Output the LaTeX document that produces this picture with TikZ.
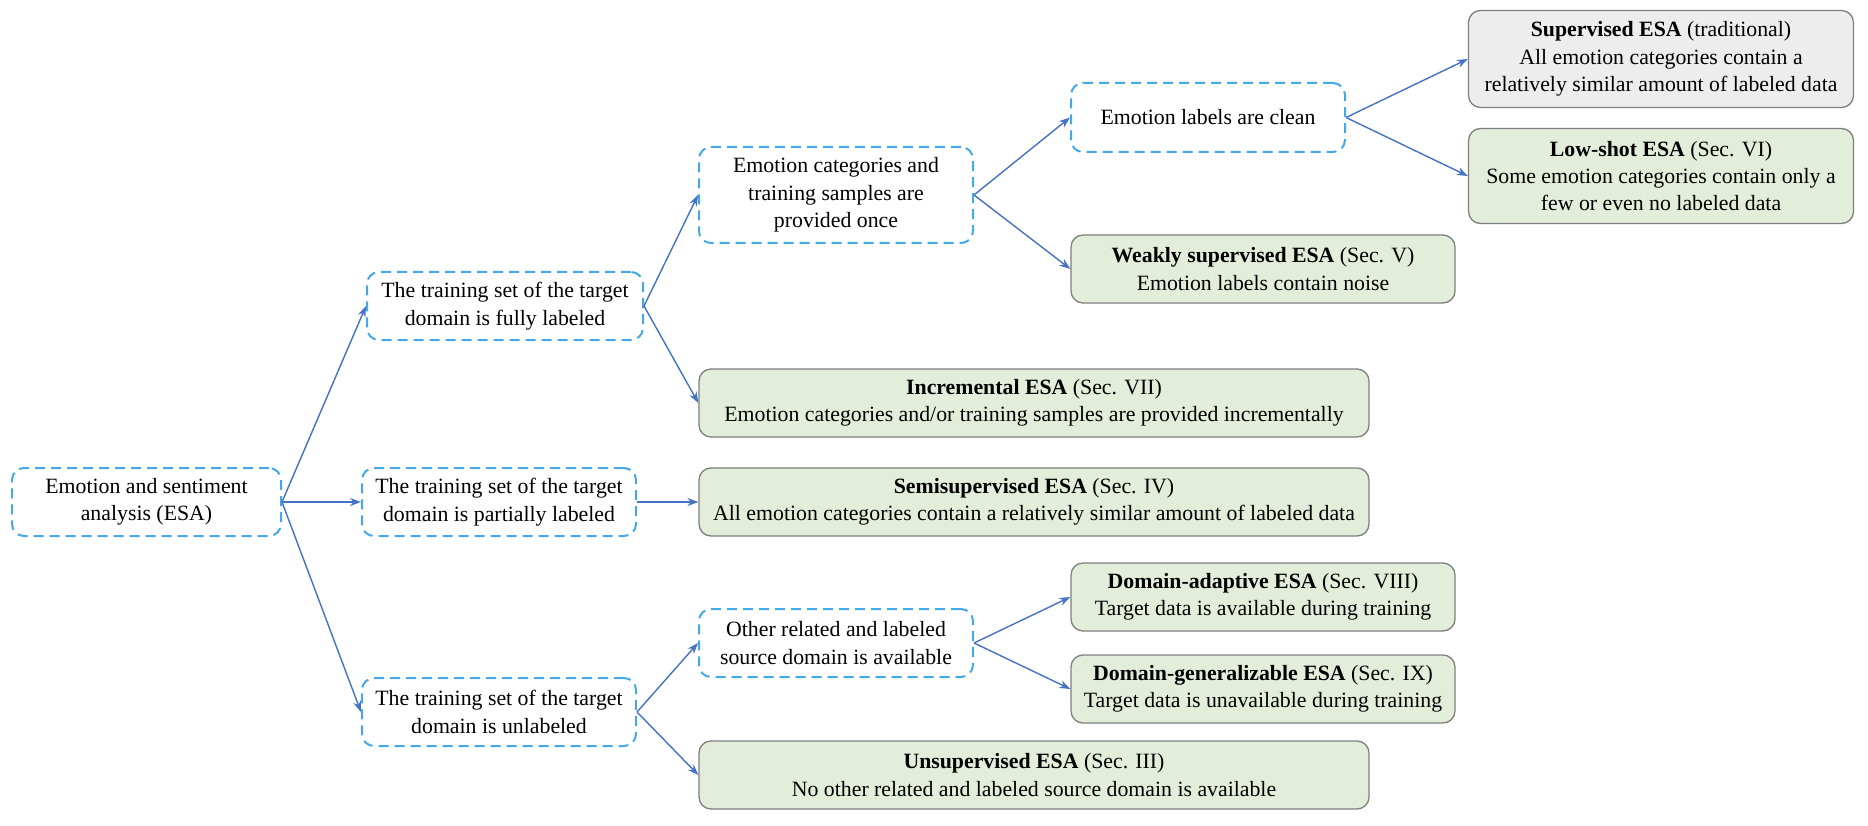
\documentclass[tikz,border=0pt]{standalone}
\usepackage{fontspec}
\setmainfont{Liberation Serif}
\usetikzlibrary{arrows.meta}
\definecolor{dashblue}{HTML}{45A8E8}
\definecolor{arrblue}{HTML}{4472C4}
\definecolor{leafgreen}{HTML}{E3EEDA}
\definecolor{leafgray}{HTML}{EDEDED}
\definecolor{leafborder}{HTML}{7F7F7F}
\begin{document}
\begin{tikzpicture}[x=1pt,y=-1pt,
  every node/.style={font=\fontsize{21.8}{27.4}\selectfont, align=center, inner sep=0pt},
  cond/.style={draw=dashblue, line width=2pt, dash pattern=on 10pt off 6pt, rounded corners=12pt, fill=white},
  leaf/.style={draw=leafborder, line width=1.3pt, rounded corners=12pt, fill=leafgreen},
  grayleaf/.style={leaf, fill=leafgray},
  conn/.style={draw=arrblue, line width=1.4pt, -{Stealth[length=11pt,width=8pt]}}
]
\useasboundingbox (0,0) rectangle (1868,826);
\fill[white] (0,0) rectangle (1868,826);

\node[cond, minimum width=269pt, minimum height=68pt] (esa) at (146.5,502) {Emotion and sentiment\\analysis (ESA)};
\node[cond, minimum width=276pt, minimum height=68pt] (full) at (505,306) {The training set of the target\\domain is fully labeled};
\node[cond, minimum width=274pt, minimum height=68pt] (part) at (499,502) {The training set of the target\\domain is partially labeled};
\node[cond, minimum width=274pt, minimum height=68pt] (unl) at (499,712) {The training set of the target\\domain is unlabeled};
\node[cond, minimum width=274pt, minimum height=96pt] (cat) at (836,195) {Emotion categories and\\training samples are\\provided once};
\node[cond, minimum width=274pt, minimum height=68pt] (other) at (836,643) {Other related and labeled\\source domain is available};
\node[cond, minimum width=274pt, minimum height=69pt] (clean) at (1208,117.5) {Emotion labels are clean};

\node[grayleaf, minimum width=385pt, minimum height=97pt] (sup) at (1661,59) {\textbf{Supervised ESA} (traditional)\\All emotion categories contain a\\relatively similar amount of labeled data};
\node[leaf, minimum width=385pt, minimum height=95pt] (low) at (1661,176) {\textbf{Low-shot ESA} (Sec. VI)\\Some emotion categories contain only a\\few or even no labeled data};
\node[leaf, minimum width=384pt, minimum height=68pt] (weak) at (1263,269) {\textbf{Weakly supervised ESA} (Sec. V)\\Emotion labels contain noise};
\node[leaf, minimum width=670pt, minimum height=68pt] (inc) at (1034,403) {\textbf{Incremental ESA} (Sec. VII)\\Emotion categories and/or training samples are provided incrementally};
\node[leaf, minimum width=670pt, minimum height=68pt] (semi) at (1034,502) {\textbf{Semisupervised ESA} (Sec. IV)\\All emotion categories contain a relatively similar amount of labeled data};
\node[leaf, minimum width=384pt, minimum height=68pt] (da) at (1263,597) {\textbf{Domain-adaptive ESA} (Sec. VIII)\\Target data is available during training};
\node[leaf, minimum width=384pt, minimum height=68pt] (dg) at (1263,689) {\textbf{Domain-generalizable ESA} (Sec. IX)\\Target data is unavailable during training};
\node[leaf, minimum width=670pt, minimum height=68pt] (uns) at (1034,775) {\textbf{Unsupervised ESA} (Sec. III)\\No other related and labeled source domain is available};

\draw[conn] (esa.east) -- (full.west);
\draw[conn] (esa.east) -- (part.west);
\draw[conn] (esa.east) -- (unl.west);
\draw[conn] (full.east) -- (cat.west);
\draw[conn] (full.east) -- (inc.west);
\draw[conn] (part.east) -- (semi.west);
\draw[conn] (unl.east) -- (other.west);
\draw[conn] (unl.east) -- (uns.west);
\draw[conn] (cat.east) -- (clean.west);
\draw[conn] (cat.east) -- (weak.west);
\draw[conn] (clean.east) -- (sup.west);
\draw[conn] (clean.east) -- (low.west);
\draw[conn] (other.east) -- (da.west);
\draw[conn] (other.east) -- (dg.west);
\end{tikzpicture}
\end{document}
